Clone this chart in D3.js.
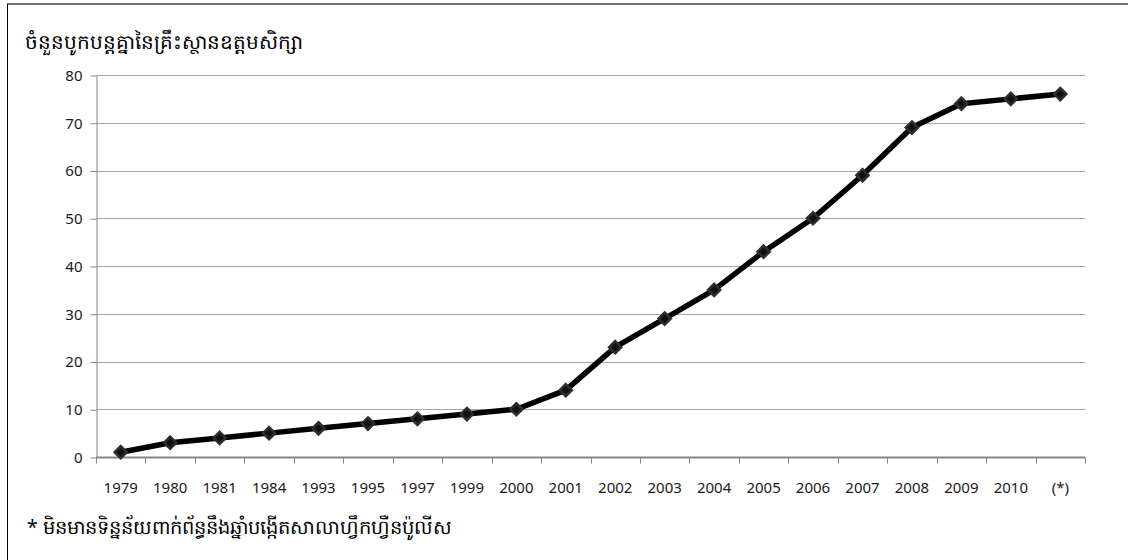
<!DOCTYPE html>
<html>
<head>
<meta charset="utf-8">
<script src="https://d3js.org/d3.v7.min.js"></script>
<style>
  body { margin: 0; background: #fff; }
  text { font-family: "Noto Sans", "Open Sans", sans-serif; }
</style>
</head>
<body>
<script>
// chart data
var years = ["1979","1980","1981","1984","1993","1995","1997","1999","2000","2001",
             "2002","2003","2004","2005","2006","2007","2008","2009","2010","(*)"];
var counts = [1, 3, 4, 5, 6, 7, 8, 9, 10, 14, 23, 29, 35, 43, 50, 59, 69, 74, 75, 76];
var yTicks = [0, 10, 20, 30, 40, 50, 60, 70, 80];
var title = "ចំនួនបូកបន្តគ្នានៃគ្រឹះស្ថានឧត្តមសិក្សា";
var note = "* មិនមានទិន្នន័យពាក់ព័ន្ធនឹងឆ្នាំបង្កើតសាលាហ្វឹកហ្វឺនប៉ូលីស";

var W = 1128, H = 560;
var plotL = 96, plotR = 1085, plotT = 75, plotB = 457;

var svg = d3.select("body").append("svg")
    .attr("width", W).attr("height", H);

// frame
svg.append("line").attr("x1", 7).attr("x2", W).attr("y1", 4).attr("y2", 4)
    .style("stroke", "#6f6f6f").style("stroke-width", 2);
svg.append("line").attr("x1", 7.5).attr("x2", 7.5).attr("y1", 4).attr("y2", H)
    .style("stroke", "#000").style("stroke-width", 1);

var x = d3.scaleBand().domain(years).range([plotL, plotR]);
var y = d3.scaleLinear().domain([0, 80]).range([plotB, plotT]);

// gridlines
svg.append("g").selectAll("line").data(yTicks.slice(1)).enter().append("line")
    .attr("x1", plotL).attr("x2", plotR)
    .attr("y1", function(d){ return Math.round(y(d)) + 0.5; })
    .attr("y2", function(d){ return Math.round(y(d)) + 0.5; })
    .style("stroke", "#a6a6a6").style("stroke-width", 1);

// y axis
var yAxis = svg.append("g").attr("transform", "translate(" + (plotL + 0.5) + ",0.5)")
    .call(d3.axisLeft(y).tickValues(yTicks).tickSize(6).tickPadding(8).tickSizeOuter(0));
yAxis.select(".domain").style("stroke", "#868686");
yAxis.selectAll(".tick line").style("stroke", "#868686");
yAxis.selectAll("text").style("font-size", "15px").style("fill", "#1a1a1a");

// x axis with ticks at band edges
var xg = svg.append("g").attr("transform", "translate(0," + (Math.round(plotB) + 0.5) + ")");
xg.append("line").attr("x1", plotL).attr("x2", plotR + 0.5)
    .style("stroke", "#868686").style("stroke-width", 2);
var edges = years.map(function(d){ return x(d); }).concat([plotR]);
xg.selectAll(".tk").data(edges).enter().append("line")
    .attr("class", "tk")
    .attr("x1", function(d){ return Math.round(d) + 0.5; })
    .attr("x2", function(d){ return Math.round(d) + 0.5; })
    .attr("y1", 0).attr("y2", 6)
    .style("stroke", "#868686");
xg.selectAll(".lb").data(years).enter().append("text")
    .attr("class", "lb")
    .attr("x", function(d){ return x(d) + x.bandwidth() / 2; })
    .attr("y", 35)
    .attr("text-anchor", "middle")
    .style("font-size", "15px")
    .style("fill", "#1a1a1a")
    .text(function(d){ return d; });

// line
var line = d3.line()
    .x(function(d, i){ return x(years[i]) + x.bandwidth() / 2; })
    .y(function(d){ return y(d); });
svg.append("path").datum(counts)
    .attr("d", line)
    .style("fill", "none").style("stroke", "#000")
    .style("stroke-width", 5.5).style("stroke-linejoin", "round");

// diamond markers
svg.append("g").selectAll("path").data(counts).enter().append("path")
    .attr("transform", function(d, i){
        return "translate(" + (x(years[i]) + x.bandwidth() / 2) + "," + y(d) + ")";
    })
    .attr("d", d3.symbol().type(d3.symbolDiamond2).size(95))
    .style("fill", "#111").style("stroke", "#2e2e2e").style("stroke-width", 2.5);

// title & note
svg.append("text").attr("x", 25).attr("y", 49)
    .style("font-size", "20px").style("fill", "#000")
    .text(title);
svg.append("text").attr("x", 27).attr("y", 534)
    .style("font-size", "19.5px").style("fill", "#000")
    .text(note);
</script>
</body>
</html>
